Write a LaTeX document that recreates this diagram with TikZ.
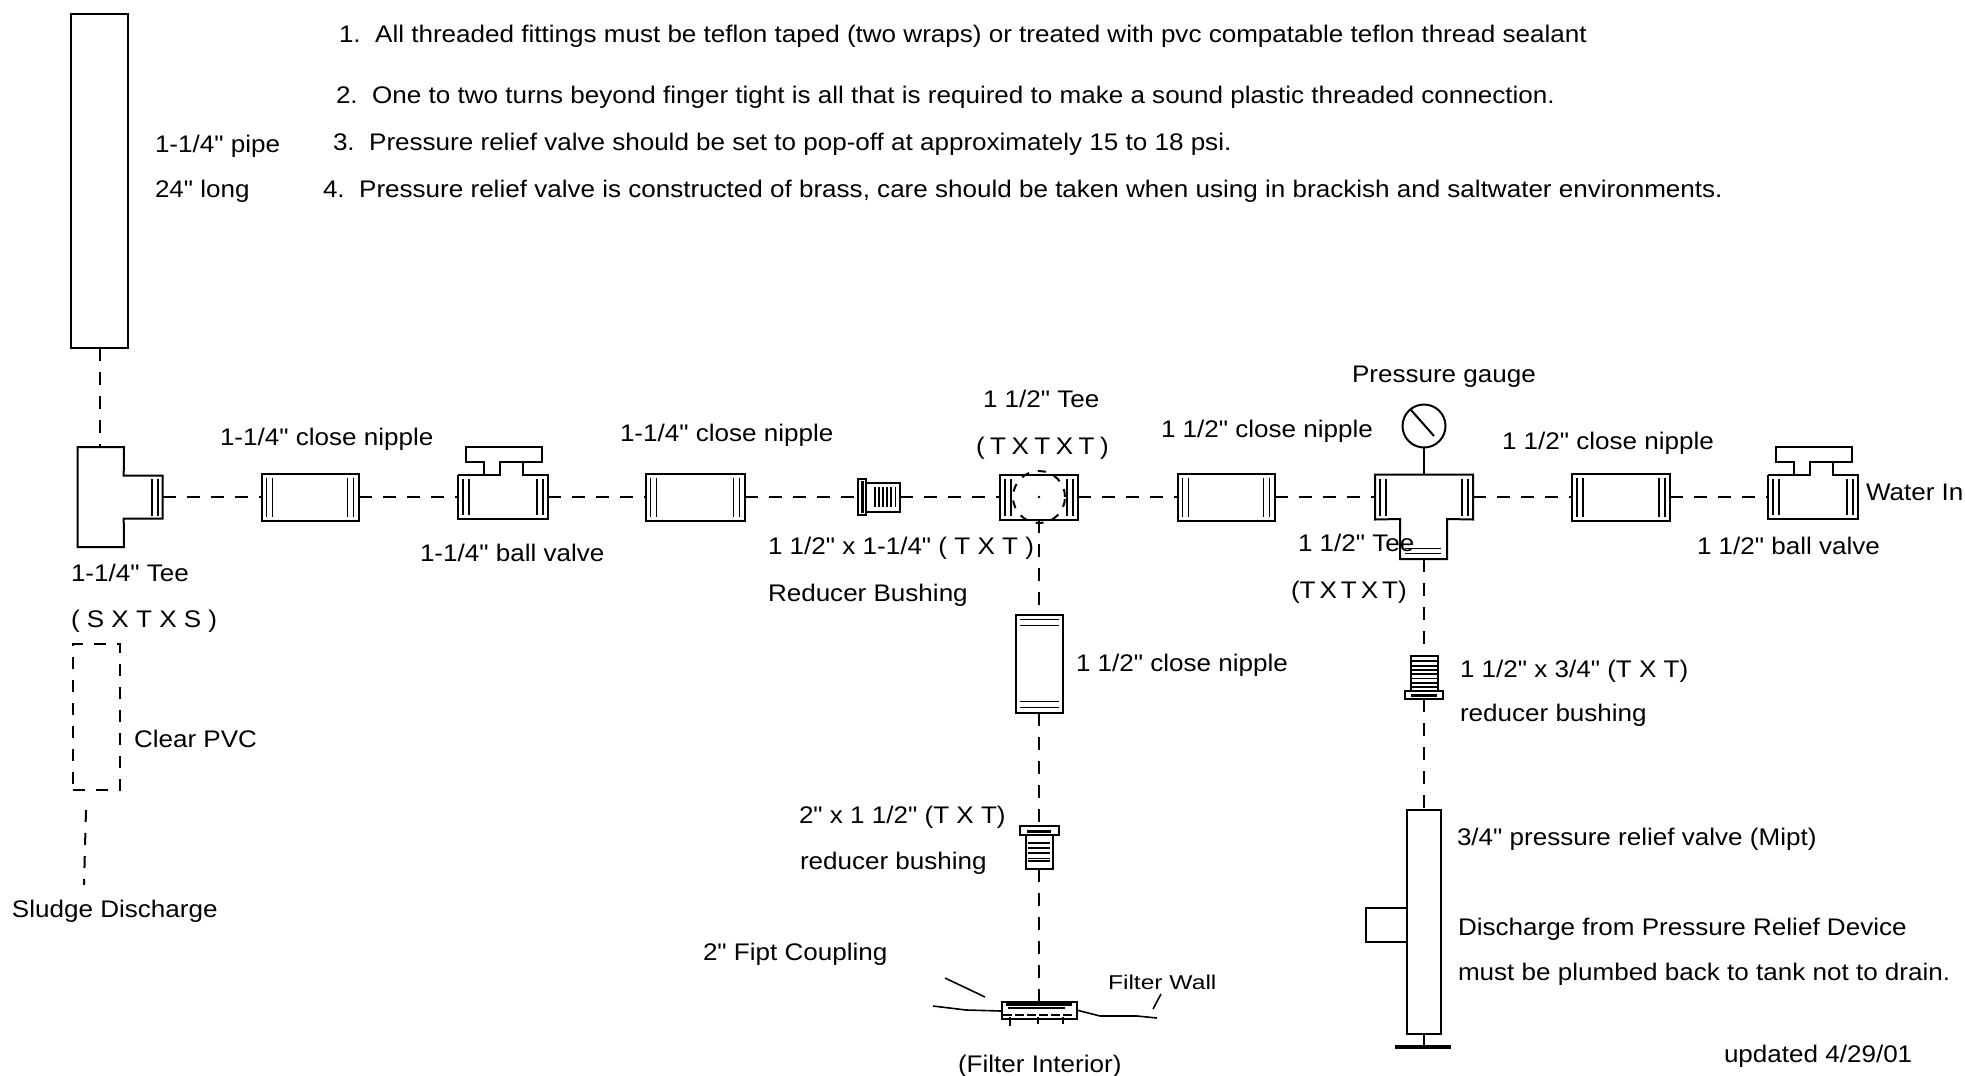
\documentclass[tikz,border=0pt]{standalone}
\usepackage{fontspec}
\newfontfamily\partfont[FakeStretch=1.085]{Liberation Sans}
\newfontfamily\wallfont[FakeStretch=1.23]{Liberation Sans}
\usepackage{tikz}
\tikzset{
part/.style={draw,rectangle,inner sep=0pt,outer sep=0pt},
port/.style={rectangle,inner sep=0pt,outer sep=0pt},
hose/.style={dash pattern=on 13pt off 11pt},
thread/.style={line width=1.6pt},
lbl/.style={anchor=west,inner sep=0pt,text height=17pt,text depth=0pt,font=\partfont\fontsize{24}{28}\selectfont}
}

\begin{document}
\begin{tikzpicture}[x=1pt,y=-1pt,line width=2pt]
\useasboundingbox (0,0) rectangle (1965,1076);
% notes
\node[lbl] (noteA) at (338,34) {1.\ \ All threaded fittings must be teflon taped (two wraps) or treated with pvc compatable teflon thread sealant};
\node[lbl] (noteB) at (335,95) {2.\ \ One to two turns beyond finger tight is all that is required to make a sound plastic threaded connection.};
\node[lbl] (noteC) at (332,142) {3.\ \ Pressure relief valve should be set to pop-off at approximately 15 to 18 psi.};
\node[lbl] (noteD) at (322,189) {4.\ \ Pressure relief valve is constructed of brass, care should be taken when using in brackish and saltwater environments.};
% fittings on the main line
\node[part,minimum width=57pt,minimum height=334pt] (pipe) at (99.5,181) {};
\node[port,minimum width=39pt,minimum height=43pt] (teeA) at (143.2,497) {};
\coordinate (teeAtop) at (99.5,447);
\node[part,minimum width=97pt,minimum height=47pt] (nipA) at (310,497) {};
\node[port,minimum width=90pt,minimum height=44pt] (valA) at (503,497) {};
\node[part,minimum width=99pt,minimum height=47pt] (nipB) at (695,497) {};
\node[part,minimum width=8.5pt,minimum height=36pt] (bushAend) at (862,497) {};
\node[part,minimum width=34pt,minimum height=29pt] (bushA) at (883,497) {};
\node[part,minimum width=78pt,minimum height=45pt] (teeB) at (1039,497) {};
\node[part,minimum width=97pt,minimum height=47pt] (nipC) at (1226,497) {};
\node[port,minimum width=98pt,minimum height=45pt] (teeC) at (1424,497) {};
\node[part,minimum width=98pt,minimum height=47pt] (nipD) at (1621,497) {};
\node[port,minimum width=90pt,minimum height=44pt] (valD) at (1813,497) {};
% branches
\node[part,circle,minimum size=43pt] (gauge) at (1424,426) {};
\coordinate (teeCbot) at (1424,559);
\node[part,minimum width=47pt,minimum height=98pt] (nipE) at (1039,663.5) {};
\node[part,minimum width=39pt,minimum height=9pt] (bushBend) at (1039,830.5) {};
\node[part,minimum width=27pt,minimum height=34pt] (bushB) at (1039,852) {};
\node[part,minimum width=75pt,minimum height=17pt] (coupling) at (1039,1010) {};
\node[part,minimum width=27pt,minimum height=35pt] (bushC) at (1424,673.5) {};
\node[part,minimum width=38pt,minimum height=8pt] (bushCend) at (1424,695) {};
\node[part,minimum width=34pt,minimum height=224pt] (relief) at (1424,922) {};
\node[part,hose,dash pattern=on 12pt off 11pt,minimum width=47pt,minimum height=146pt] (pvc) at (96.7,717) {};
\coordinate (pvcout) at (86,810);
\coordinate (sludge) at (84,885);
% tee and valve outlines
\draw (teeAtop) -- (77.5,447) -- (77.5,547) -- (124,547) -- (teeA.south west) -- (teeA.south east) -- (teeA.north east) -- (teeA.north west) -- (124,447) -- (teeAtop);
\draw (teeC.north west) -- (teeC.north east) -- (teeC.south east) -- (1447,519) -- (1447,559) -- (1400,559) -- (1400,519) -- (teeC.south west) -- cycle;
\foreach \n in {valA,valD}{
\draw (\n.north west) -- ++(41.7,0) -- ++(0,-13) -- ++(42.3,0) -- ++(0,-15) -- ++(-76,0) -- ++(0,15) -- ++(18,0) -- ++(0,13);
\draw (\n.north west) ++(65,-13) -- ++(0,13) -- (\n.north east) -- (\n.south east) -- (\n.south west) -- (\n.north west);
}
% threads
\foreach \n in {nipA,nipB,nipC,nipD,teeB,teeC,valA,valD}{
\foreach \d in {5,11}{
\draw[thread] ([xshift=\d pt,yshift=-4pt]\n.north west) -- ([xshift=\d pt,yshift=4pt]\n.south west);
\draw[thread] ([xshift=-\d pt,yshift=-4pt]\n.north east) -- ([xshift=-\d pt,yshift=4pt]\n.south east);
}
}
\foreach \d in {5,11}{
\draw[thread] ([xshift=-\d pt,yshift=-3pt]teeA.north east) -- ([xshift=-\d pt,yshift=3pt]teeA.south east);
\draw[thread] ([xshift=4pt,yshift=\d pt]nipE.south west) -- ([xshift=-4pt,yshift=\d pt]nipE.south east);
\draw[thread] ([xshift=4pt,yshift=-\d pt]nipE.north west) -- ([xshift=-4pt,yshift=-\d pt]nipE.north east);
}
\draw[thread] (1405,548.5) -- (1441,548.5);
\draw[thread] (1405,553.5) -- (1441,553.5);
\foreach \x in {875,879,883,887,891,895.5}{
\draw[thread] (\x,487) -- (\x,507);
}
\draw[line width=3pt] (862,481) -- (862,513);
\foreach \y in {661,666,670,674,678.5,683,687}{
\draw[thread] (1411,\y) -- (1437,\y);
}
\draw[line width=3pt] (1411,695.5) -- (1437,695.5);
\foreach \y in {843,848,853,858.5,861}{
\draw[thread] (1028,\y) -- (1050,\y);
}
\draw[line width=3pt] (1027,831) -- (1051,831);
% ball and gauge inside
\node[part,circle,dash pattern=on 8pt off 9pt,minimum size=52pt] (ball) at (teeB) {};
\node[circle,fill,inner sep=1pt] (ballmid) at (teeB) {};
\coordinate (needleA) at (1411,410);
\coordinate (needleB) at (1434,436);
\draw (needleA) -- (needleB);
\draw (gauge.south) -- (teeC.north);
% connectors
\draw[hose] (pipe.south) -- (teeAtop);
\draw[hose] (teeA.east) -- (nipA.west);
\draw[hose] (nipA.east) -- (valA.west);
\draw[hose] (valA.east) -- (nipB.west);
\draw[hose] (nipB.east) -- (bushAend.west);
\draw[hose] (bushA.east) -- (teeB.west);
\draw[hose] (teeB.east) -- (nipC.west);
\draw[hose] (nipC.east) -- (teeC.west);
\draw[hose] (teeC.east) -- (nipD.west);
\draw[hose] (nipD.east) -- (valD.west);
\draw[hose] (teeB.south) -- (nipE.north);
\draw[hose] (nipE.south) -- (bushBend.north);
\draw[hose] (bushB.south) -- (coupling.north);
\draw[hose] (teeCbot) -- (bushC.north);
\draw[hose] (bushCend.south) -- (relief.north);
\draw[hose,dash pattern=on 12pt off 11pt] (pvcout) -- (sludge);
% relief valve side and foot
\draw (relief.west |- 0,908) -- (1366,908) -- (1366,942) -- (relief.west |- 0,942);
\coordinate (footA) at (1424,1047);
\draw (relief.south) -- (footA);
\draw[line width=4pt] (1395,1047) -- (1451,1047);
% coupling and filter wall
\draw[line width=3pt] (1006,1004) -- (1072,1004);
\draw[thread] (1008,1008) -- (1065,1008);
\draw[thread,dash pattern=on 9pt off 3pt] (1003,1015) -- (1075,1015);
\draw[thread] (1010,1017) -- (1010,1026);
\draw[thread] (1038,1017) -- (1038,1024);
\draw[thread] (1063,1017) -- (1063,1024);
\draw[thread] (933,1006) -- (966,1010) -- (1001,1011);
\draw[thread] (coupling.east) -- (1100,1016) -- (1137,1016) -- (1157,1018);
\draw[thread] (945,978) -- (985,997);
\draw[thread] (1161,994) -- (1153,1009);
% labels
\node[lbl] (pipeA) at (154,144) {1-1/4" pipe};
\node[lbl] (pipeB) at (154,189) {24" long};
\node[lbl] (lblnipA) at (219,437) {1-1/4" close nipple};
\node[lbl] (lblvalA) at (419,553) {1-1/4" ball valve};
\node[lbl] (lblnipB) at (619,433) {1-1/4" close nipple};
\node[lbl] (lblteeB) at (982,399) {1 1/2" Tee};
\node[lbl] (lblteeBb) at (975,446) {\spaceskip=5.5pt\relax ( T X T X T )};
\node[lbl] (lblnipC) at (1160,429) {1 1/2" close nipple};
\node[lbl] (lblgauge) at (1351,374) {Pressure gauge};
\node[lbl] (lblnipD) at (1501,441) {1 1/2" close nipple};
\node[lbl] (lblin) at (1865,492) {Water In};
\node[lbl] (lblvalD) at (1696,546) {1 1/2" ball valve};
\node[lbl] (lblteeA) at (70,573) {1-1/4" Tee};
\node[lbl] (lblteeAb) at (70,619) {( S X T X S )};
\node[lbl] (lblpvc) at (133,739) {Clear PVC};
\node[lbl] (lblsludge) at (11,909) {Sludge Discharge};
\node[lbl] (lblbushA) at (767,546) {1 1/2" x 1-1/4" ( T X T )};
\node[lbl] (lblbushAb) at (767,593) {Reducer Bushing};
\node[lbl] (lblteeC) at (1297,543) {1 1/2" Tee};
\node[lbl] (lblteeCb) at (1290,590) {\spaceskip=4pt\relax (T X T X T)};
\node[lbl] (lblnipE) at (1075,663) {1 1/2" close nipple};
\node[lbl] (lblbushC) at (1459,669) {1 1/2" x 3/4" (T X T)};
\node[lbl] (lblbushCb) at (1459,713) {reducer bushing};
\node[lbl] (lblbushB) at (798,815) {2" x 1 1/2" (T X T)};
\node[lbl] (lblbushBb) at (799,861) {reducer bushing};
\node[lbl] (lblcoupling) at (702,952) {2" Fipt Coupling};
\node[lbl,font=\wallfont\fontsize{20}{24}\selectfont] (lblwall) at (1107,981) {Filter Wall};
\node[lbl] (lblinterior) at (957,1064) {(Filter Interior)};
\node[lbl] (lblrelief) at (1456,837) {3/4" pressure relief valve (Mipt)};
\node[lbl] (lbldisA) at (1457,927) {Discharge from Pressure Relief Device};
\node[lbl] (lbldisB) at (1457,972) {must be plumbed back to tank not to drain.};
\node[lbl] (lblupdated) at (1723,1054) {updated 4/29/01};
\end{tikzpicture}
\end{document}
